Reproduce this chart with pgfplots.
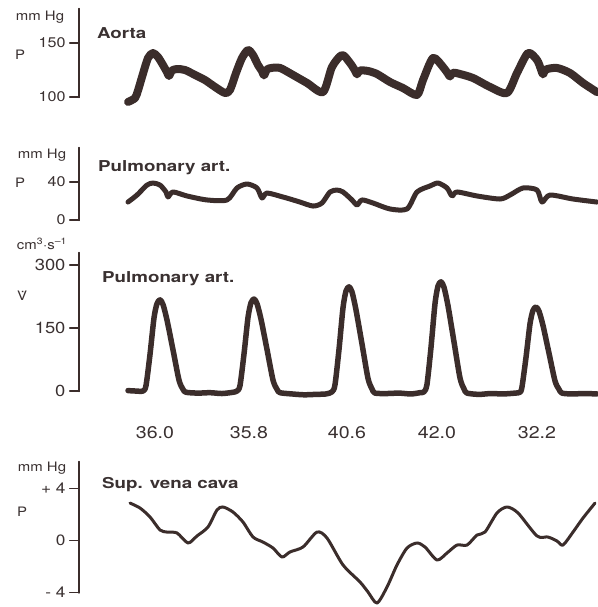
\documentclass[border=0pt]{standalone}
\usepackage{fontspec}
\setmainfont{TeX Gyre Heros}[FakeStretch=1.15]
\newfontfamily\titlefont{TeX Gyre Heros}[FakeStretch=1.25]
\usepackage{pgfplots}
\pgfplotsset{compat=1.18}
\definecolor{axcol}{HTML}{3A3131}
\definecolor{tracecol}{HTML}{3B2D2B}

\pgfplotsset{
  panel/.style={
    scale only axis, width=518pt, xmin=79, xmax=597,
    separate axis lines,
    axis x line*=bottom, xtick=\empty, x axis line style={draw opacity=0},
    axis y line*=left, y axis line style={line width=2.2pt, draw=tracecol, line cap=round},
    clip=false, tick align=outside, major tick length=9pt,
    tick style={line width=1.6pt, draw=tracecol, line cap=round},
    yticklabel style={font=\fontsize{14}{14}\selectfont, text=axcol, xshift=-1pt},
    /pgf/number format/assume math mode=true,
    anchor=north west,
    extra description/.code={
      \draw[line width=2.2pt, draw=tracecol, line cap=round]
        plot[smooth] coordinates {(rel axis cs:0,0) (rel axis cs:0,0.5) (rel axis cs:0,1)};
      \foreach \t in \yt {\draw[line width=1.6pt, draw=tracecol, line cap=round]
        plot[smooth] coordinates {(axis cs:79,\t) ([xshift=-4.5pt]axis cs:79,\t) ([xshift=-9pt]axis cs:79,\t)};}
    },
  },
  wave/.style={tracecol, line width=#1, line join=round, line cap=round, smooth, tension=0.45, mark=none},
}
\tikzset{lab/.style={text=axcol, inner sep=0pt, font=\fontsize{13}{13}\selectfont},
  ttl/.style={text=axcol, inner sep=0pt, anchor=west, font=\titlefont\bfseries\fontsize{15}{15}\selectfont}}

\begin{document}
\begin{tikzpicture}

% aorta pressure, mm Hg
\def\yt{100,150}
\begin{axis}[panel, at={(79pt,-9pt)}, height=88pt, ymin=100, ymax=181.5, ytick={100,150}]
\addplot[wave=8pt] coordinates {
(128,95.4)(135,99)(138,106)(142,118.5)(148,136.1)(153,140.7)(158,137.0)(163,129.6)
(167,123)(169,119.5)(172,124.5)(177,125.9)(185,125.0)(195,120.4)(205,115.7)(215,109.3)
(225,103.7)(230,106.5)(236,122.2)(242,136.1)(248,143.5)(253,138.9)(258,129.6)(262,124)
(264,120)(267,125.5)(272,127.0)(280,126.9)(290,122)(307,113.0)(323,104.6)(332,127.8)
(342,138.9)(350,131.5)(355,124.5)(357,121)(360,124.5)(368,124.1)(377,121.3)(390,113.9)
(403,108.3)(417,101.9)(423,115.7)(433,136.1)(443,127.8)(448,121.5)(450,119)(453,122.5)
(460,121.3)(473,117.6)(490,109.3)(507,103.7)(517,122.2)(528,140.7)(537,134.3)(541,125.5)
(543,121)(546,125.5)(557,126.9)(570,122.2)(583,113.0)(597,104.5)};
\end{axis}

% pulmonary artery pressure, mm Hg
\def\yt{0,40}
\begin{axis}[panel, at={(79pt,-148pt)}, height=72pt, ymin=0, ymax=75.8, ytick={0,40}]
\addplot[wave=5pt] coordinates {
(128,18.9)(137,26.3)(147,36.8)(153,38.9)(160,36.8)(166,29.5)(168,24.2)(173,29.5)
(187,25.3)(207,21.1)(227,21.1)(237,33.7)(247,37.9)(257,33.7)(262,23.2)(267,28.4)
(283,24.2)(290,22.1)(300,18.9)(313,14.7)(322,17.9)(330,29.5)(337,31.5)(343,29.5)
(352,21.1)(357,15.8)(362,21.1)(373,17.9)(390,11.6)(407,11.6)(417,29.5)(430,35.8)
(438,38.9)(447,33.7)(452,25.3)(457,29.5)(477,25.3)(500,22.1)(510,26.3)(523,33.7)
(537,31.6)(542,18.9)(550,26.3)(573,22.1)(597,18.9)};
\end{axis}

% pulmonary artery flow, cm3/s
\def\yt{0,150,300}
\begin{axis}[panel, at={(79pt,-253pt)}, height=138pt, ymin=0, ymax=328.6, ytick={0,150,300},
  yticklabel style={font=\fontsize{16}{16}\selectfont}]
\addplot[wave=5.5pt] coordinates {
(128,1)(135,0)(143,0)(146,13)(150,87)(154,174)(157,208)(160,217)(163,206)(167,169)
(173,98)(179,26)(183,4)(186,-3)(198,-5)(210,-4)(222,-6)(233,-3)
(237,0)(240,13)(244,88)(248,175)(251,210)(254,219)(257,208)(261,171)(267,99)(273,26)
(277,4)(280,-4)(292,-7)(304,-9)(316,-8)(326,-7)
(332,-2)(335,15)(339,99)(343,198)(346,238)(349,248)(352,236)(356,193)(362,112)(368,30)
(372,5)(375,-5)(387,-6)(399,-5)(411,-7)(420,-4)
(424,-2)(427,16)(431,104)(435,208)(438,250)(441,260)(444,247)(448,203)(454,117)(460,31)
(464,5)(467,-5)(479,-8)(491,-6)(503,-7)(515,-5)
(520,-3)(522,10)(526,80)(530,160)(533,192)(536,200)(539,190)(543,156)(549,90)(555,24)
(559,4)(562,-5)(572,-7)(584,-6)(597,-7)};
\end{axis}

% superior vena cava pressure, mm Hg
\def\yt{-4,0,4}
\begin{axis}[panel, at={(79pt,-462pt)}, height=130.5pt, ymin=-4, ymax=6.04, ytick={-4,0,4},
  yticklabels={{- 4},0,{+ 4}}, yticklabel style={font=\fontsize{15}{15}\selectfont}]
\addplot[wave=3pt] coordinates {
(130,2.88)(140,2.50)(150,1.81)(160,0.81)(167,0.65)(177,0.58)(188,-0.19)(197,0.35)
(208,1.04)(217,2.35)(223,2.58)(233,2.19)(243,1.42)(253,0.27)(263,-0.12)(273,-0.58)
(282,-1.27)(290,-0.88)(303,-0.50)(317,0.65)(327,0.19)(343,-1.88)(360,-3.19)(368,-3.96)
(377,-4.81)(387,-3.58)(397,-1.88)(407,-0.58)(417,-0.19)(425,-0.50)(437,-1.50)(447,-0.96)
(457,-0.35)(467,-0.35)(477,0.42)(485,0.65)(497,2.12)(507,2.58)(518,2.12)(537,0.35)
(548,0.27)(557,-0.04)(563,-0.35)(573,0.65)(583,1.73)(595,2.88)};
\end{axis}

% unit labels and titles
\node[lab] at (40pt,-17pt) {mm Hg};
\node[lab] at (20pt,-55pt) {P};
\node[ttl] at (97pt,-33pt) {Aorta};
\node[lab] at (42pt,-155pt) {mm Hg};
\node[lab] at (20pt,-183pt) {P};
\node[ttl] at (98pt,-168pt) {Pulmonary art.};
\node[lab] at (42pt,-244pt) {cm\textsuperscript{3}·s\textsuperscript{–1}};
\node[lab] at (22pt,-296pt) {\.{V}};
\node[ttl] at (102pt,-279pt) {Pulmonary art.};
\node[lab] at (42pt,-468pt) {mm Hg};
\node[lab] at (22pt,-512pt) {P};
\node[ttl] at (102pt,-485pt) {Sup. vena cava};
% stroke volumes under the flow peaks
\foreach \xx/\tt in {155/36.0, 249/35.8, 347/40.6, 437/42.0, 537/32.2}
  \node[lab, font=\fontsize{17}{17}\selectfont] at (\xx pt,-433pt) {\tt};

\pgfresetboundingbox
\useasboundingbox (0pt,0pt) rectangle (597pt,-607pt);
\end{tikzpicture}
\end{document}
